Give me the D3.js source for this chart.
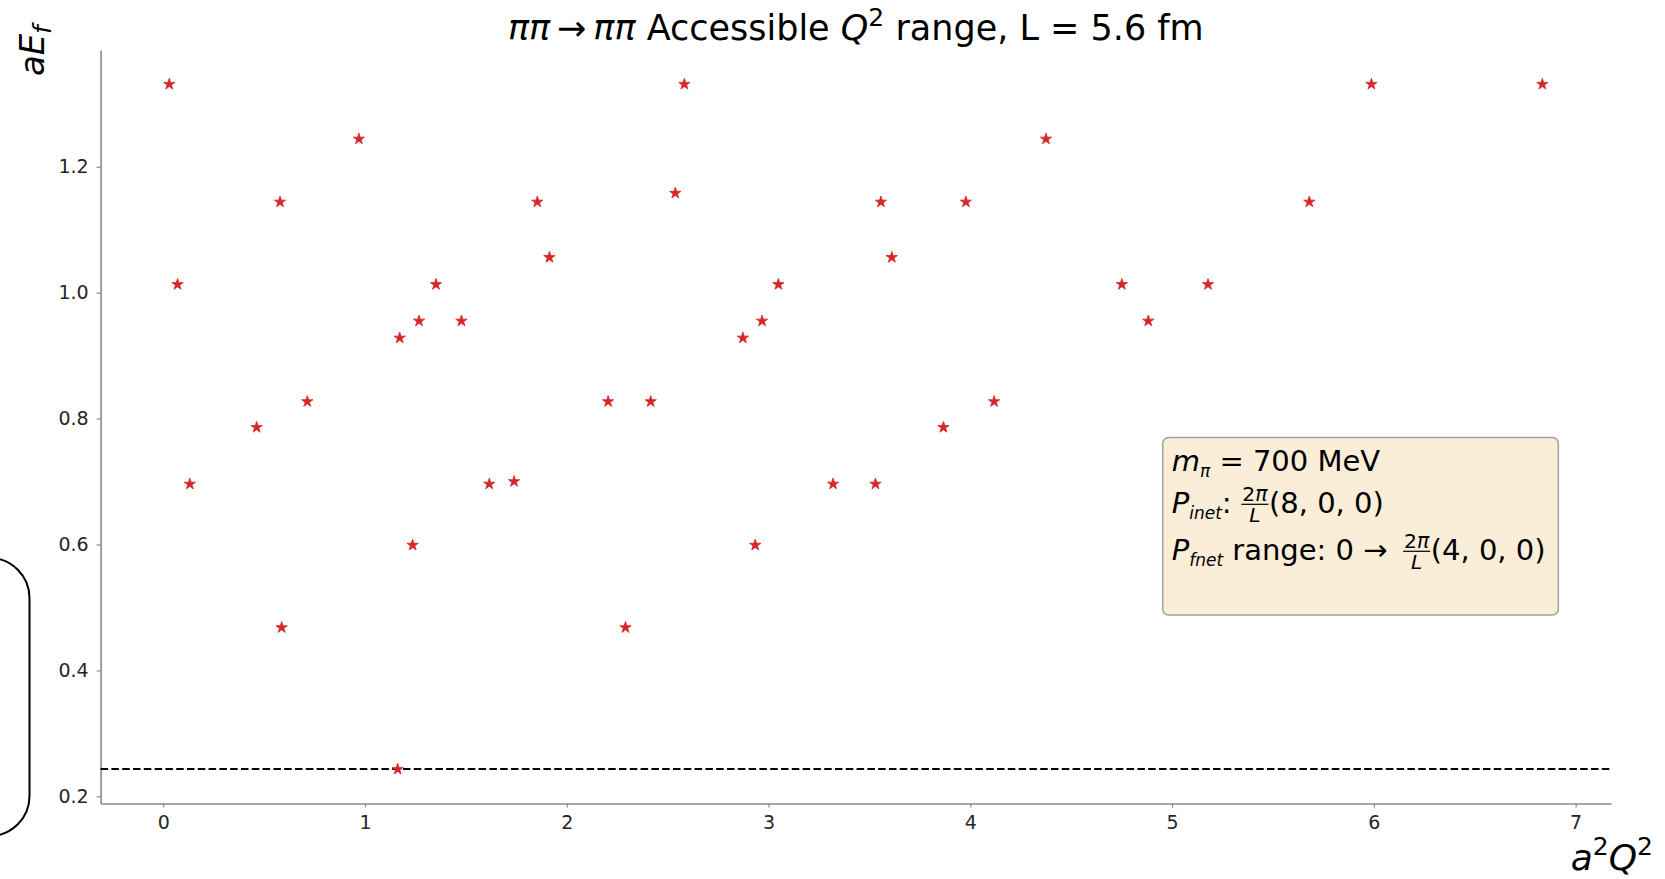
<!DOCTYPE html>
<html>
<head>
<meta charset="utf-8">
<script src="https://cdn.jsdelivr.net/npm/d3@7"></script>
<style>
  html, body { margin: 0; padding: 0; background: #ffffff; }
  svg { display: block; font-family: "DejaVu Sans", sans-serif; }
</style>
</head>
<body>
<svg id="vis"></svg>
<script>
//DATOS---------------------------------------------------------------------------------------------
const Q2 = [
  0.030, 0.071, 0.132, 0.463, 0.579, 0.587, 0.714, 0.970, 1.162, 1.172,
  1.236, 1.268, 1.352, 1.478, 1.616, 1.739, 1.854, 1.914, 2.205, 2.291,
  2.416, 2.538, 2.583, 2.873, 2.934, 2.968, 3.049, 3.320, 3.530, 3.557,
  3.611, 3.867, 3.978, 4.118, 4.375, 4.751, 4.882, 5.178, 5.680, 5.988,
  6.835,
];
const ENERGIA = [
  1.331, 1.013, 0.696, 0.786, 1.144, 0.468, 0.827, 1.244, 0.243, 0.928,
  0.599, 0.955, 1.013, 0.955, 0.696, 0.700, 1.144, 1.056, 0.827, 0.468,
  0.827, 1.158, 1.331, 0.928, 0.599, 0.955, 1.013, 0.696, 0.696, 1.144,
  1.056, 0.786, 1.144, 0.827, 1.244, 1.013, 0.955, 1.013, 1.144, 1.331,
  1.331,
];
const UMBRAL = 0.2435;
const TICKS_X = [0, 1, 2, 3, 4, 5, 6, 7];
const TICKS_Y = [0.2, 0.4, 0.6, 0.8, 1.0, 1.2];

//VARIABLES CONSTANTES-----------------------------------------------------------------------------
const WIDTH = 1665;
const HEIGHT = 879;
const MARGIN = { top: 50, bottom: 75.5, left: 100.6, right: 54 };
const ROJO = "#d62728";
const GRIS_EJE = "#8a8a8a";
const TEXTO = "#262626";
const F_TICK = 19;
const F_LEYENDA = 29;

const svg = d3.select("#vis").attr("width", WIDTH).attr("height", HEIGHT);

const puntos = Q2.map((q, i) => ({ x: q, y: ENERGIA[i] }));

//ESCALAS (margen de 5% como matplotlib)-----------------------------------------------------------
function conMargen(valores) {
  const [a, b] = d3.extent(valores);
  const m = (b - a) * 0.05;
  return [a - m, b + m];
}
const escalaX = d3
  .scaleLinear()
  .domain(conMargen(Q2))
  .range([MARGIN.left, WIDTH - MARGIN.right]);
const escalaY = d3
  .scaleLinear()
  .domain(conMargen(ENERGIA.concat([UMBRAL])))
  .range([HEIGHT - MARGIN.bottom, MARGIN.top]);

//MARCO DEL NOTEBOOK (a la izquierda)--------------------------------------------------------------
svg
  .append("rect")
  .attr("x", -60)
  .attr("y", 558)
  .attr("width", 89.5)
  .attr("height", 278)
  .attr("rx", 40)
  .attr("fill", "none")
  .attr("stroke", "black")
  .attr("stroke-width", 2);

//EJES---------------------------------------------------------------------------------------------
const ejeY = svg
  .append("g")
  .attr("transform", `translate(${MARGIN.left}, 0)`)
  .call(
    d3.axisLeft(escalaY).tickValues(TICKS_Y).tickFormat(d3.format(".1f"))
      .tickSize(4).tickSizeOuter(0).tickPadding(8)
  );
const ejeX = svg
  .append("g")
  .attr("transform", `translate(0, ${HEIGHT - MARGIN.bottom})`)
  .call(
    d3.axisBottom(escalaX).tickValues(TICKS_X).tickFormat(d3.format("d"))
      .tickSize(4).tickSizeOuter(0).tickPadding(8)
  );
[ejeX, ejeY].forEach((eje) => {
  eje.select(".domain").attr("stroke", GRIS_EJE).attr("stroke-width", 1.6);
  eje.selectAll(".tick line").attr("stroke", GRIS_EJE).attr("stroke-width", 1.2);
  eje
    .selectAll(".tick text")
    .attr("fill", TEXTO)
    .style("font-size", F_TICK + "px")
    .style("font-family", "DejaVu Sans");
});

//LINEA UMBRAL-------------------------------------------------------------------------------------
svg
  .append("line")
  .attr("x1", escalaX.range()[0])
  .attr("x2", escalaX.range()[1])
  .attr("y1", escalaY(UMBRAL))
  .attr("y2", escalaY(UMBRAL))
  .attr("stroke", "black")
  .attr("stroke-width", 2)
  .attr("stroke-dasharray", "7.5,3.3");

//ESTRELLAS----------------------------------------------------------------------------------------
svg
  .append("g")
  .selectAll("path")
  .data(puntos)
  .join("path")
  .attr("transform", (d) => `translate(${escalaX(d.x)}, ${escalaY(d.y)})`)
  .attr("d", d3.symbol(d3.symbolStar, 40))
  .attr("fill", ROJO)
  .attr("stroke", ROJO)
  .attr("stroke-width", 0.8);

//TITULO Y ETIQUETAS-------------------------------------------------------------------------------
const titulo = svg
  .append("text")
  .attr("x", (escalaX.range()[0] + escalaX.range()[1]) / 2)
  .attr("y", 40)
  .attr("text-anchor", "middle")
  .attr("fill", "black")
  .style("font-size", "35px")
  .style("white-space", "pre");
titulo.append("tspan").style("font-style", "italic").text("ππ");
titulo.append("tspan").text("\u2009→\u2009");
titulo.append("tspan").style("font-style", "italic").text("ππ");
titulo.append("tspan").text(" Accessible ");
titulo.append("tspan").style("font-style", "italic").text("Q");
titulo.append("tspan").attr("dy", -14).style("font-size", "25px").text("2");
titulo.append("tspan").attr("dy", 14).text(" range, L = 5.6 fm");

const etiquetaY = svg
  .append("text")
  .attr("transform", "translate(44, 76) rotate(-90)")
  .attr("fill", "black")
  .style("font-size", "34px");
etiquetaY.append("tspan").style("font-style", "italic").text("aE");
etiquetaY.append("tspan").attr("dy", 7).style("font-style", "italic").style("font-size", "24px").text("f");

const etiquetaX = svg
  .append("text")
  .attr("x", 1653)
  .attr("y", 870)
  .attr("text-anchor", "end")
  .attr("fill", "black")
  .style("font-size", "36px");
etiquetaX.append("tspan").style("font-style", "italic").text("a");
etiquetaX.append("tspan").attr("dy", -15).style("font-size", "25px").text("2");
etiquetaX.append("tspan").attr("dy", 15).style("font-style", "italic").text("Q");
etiquetaX.append("tspan").attr("dy", -15).style("font-size", "25px").text("2");

//CAJA DE TEXTO------------------------------------------------------------------------------------
const caja = svg.append("g");
caja
  .append("rect")
  .attr("x", 1162.7)
  .attr("y", 437.5)
  .attr("width", 395.6)
  .attr("height", 177.5)
  .attr("rx", 6)
  .attr("fill", "#f5deb3")
  .attr("fill-opacity", 0.5)
  .attr("stroke", "#a0a0a0")
  .attr("stroke-width", 1.5);

function pieza(x, y, texto, size, italic) {
  const t = caja
    .append("text")
    .attr("x", x)
    .attr("y", y)
    .attr("fill", "black")
    .style("font-size", size + "px")
    .style("font-style", italic ? "italic" : "normal")
    .style("white-space", "pre")
    .text(texto);
  return t.node().getComputedTextLength();
}

function fraccion(x, y) {
  const chico = F_LEYENDA * 0.7;
  const barra = y - F_LEYENDA * 0.3;
  const num = caja
    .append("text")
    .attr("y", barra - 3)
    .attr("fill", "black")
    .style("font-size", chico + "px");
  num.append("tspan").text("2");
  num.append("tspan").style("font-style", "italic").text("π");
  const den = caja
    .append("text")
    .attr("y", barra + 2.5 + chico * 0.73)
    .attr("fill", "black")
    .style("font-size", chico + "px")
    .style("font-style", "italic")
    .text("L");
  const wn = num.node().getComputedTextLength();
  const wd = den.node().getComputedTextLength();
  const w = Math.max(wn, wd) + 3;
  num.attr("x", x + (w - wn) / 2);
  den.attr("x", x + (w - wd) / 2);
  caja
    .append("line")
    .attr("x1", x + 0.5)
    .attr("x2", x + w - 0.5)
    .attr("y1", barra)
    .attr("y2", barra)
    .attr("stroke", "black")
    .attr("stroke-width", 1.2);
  return w;
}

const X0 = 1171.7;
const SUB = 17;
const BAJA = 6;
// linea 1
let x = X0;
x += pieza(x, 470.5, "m", F_LEYENDA, true);
x += pieza(x, 470.5 + BAJA, "π", SUB, true);
pieza(x, 470.5, " = 700 MeV", F_LEYENDA, false);
// linea 2
x = X0;
x += pieza(x, 513, "P", F_LEYENDA, true);
x += pieza(x, 513 + BAJA, "inet", SUB, true);
x += pieza(x, 513, ": ", F_LEYENDA, false);
x += fraccion(x, 513);
pieza(x, 513, "(8, 0, 0)", F_LEYENDA, false);
// linea 3
x = X0;
x += pieza(x, 560, "P", F_LEYENDA, true);
x += pieza(x, 560 + BAJA, "fnet", SUB, true);
x += pieza(x, 560, " range: 0 → \u2009", F_LEYENDA, false);
x += fraccion(x, 560);
pieza(x, 560, "(4, 0, 0)", F_LEYENDA, false);
</script>
</body>
</html>
